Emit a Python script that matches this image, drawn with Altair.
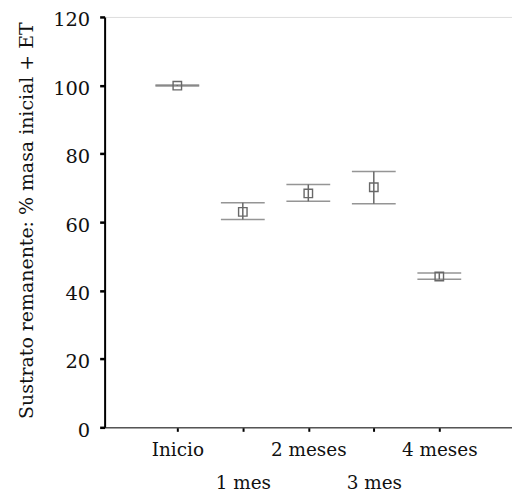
import altair as alt
import pandas as pd

categories = ["Inicio", "1 mes", "2 meses", "3 mes", "4 meses"]
means = [99.9, 63.0, 68.4, 70.2, 44.1]
upper = [100.1, 65.7, 71.0, 74.8, 45.1]
lower = [99.8, 60.8, 66.1, 65.4, 43.3]

df = pd.DataFrame({
    "idx": list(range(len(categories))),
    "cat": categories,
    "mean": means,
    "hi": upper,
    "lo": lower,
})

FONT = "DejaVu Serif"
GRAY = "#686868"

cat_array = "[" + ",".join("'" + c + "'" for c in categories) + "]"
label_expr = (
    "datum.value % 2 == 1 ? ['', " + cat_array + "[datum.value]] : "
    + cat_array + "[datum.value]"
)

xscale = alt.Scale(domain=[-1.11, 5.11], nice=False, zero=False)
yscale = alt.Scale(domain=[0, 120], nice=False)

x = alt.X(
    "idx:Q",
    scale=xscale,
    axis=alt.Axis(
        title=None,
        values=list(range(len(categories))),
        labelAngle=0,
        labelFont=FONT,
        labelFontSize=18.5,
        labelColor="#111",
        labelPadding=9,
        labelLineHeight=33,
        labelBaseline="top",
        labelOverlap=False,
        labelBound=False,
        labelExpr=label_expr,
        grid=False,
        domainColor="#555",
        domainWidth=1.5,
        tickColor="#000",
        tickWidth=2,
        tickSize=4,
    ),
)

y = alt.Y(
    "mean:Q",
    scale=yscale,
    axis=alt.Axis(
        title="Sustrato remanente: % masa inicial + ET",
        titleFont=FONT,
        titleFontSize=19,
        titleFontWeight="normal",
        titleColor="#111",
        titleX=-78,
        titleY=204,
        titleAngle=-90,
        titleAlign="center",
        titleBaseline="middle",
        values=[0, 20, 40, 60, 80, 100, 120],
        labelFont=FONT,
        labelFontSize=19.5,
        labelColor="#111",
        labelPadding=10,
        labelBaseline="alphabetic",
        labelOffset=9,
        grid=False,
        domainColor="#000",
        domainWidth=2,
        tickColor="#000",
        tickWidth=2.5,
        tickSize=5,
    ),
)

base = alt.Chart(df)

rules = base.mark_rule(color=GRAY, strokeWidth=1.5).encode(
    x=x, y=alt.Y("lo:Q", scale=yscale), y2="hi:Q"
)
caps_hi = base.mark_tick(color=GRAY, thickness=1.5, size=44, orient="horizontal").encode(
    x=x, y=alt.Y("hi:Q", scale=yscale)
)
caps_lo = base.mark_tick(color=GRAY, thickness=1.5, size=44, orient="horizontal").encode(
    x=x, y=alt.Y("lo:Q", scale=yscale)
)
pts = base.mark_point(shape="square", filled=False, size=72, color=GRAY, strokeWidth=1.4, opacity=1).encode(
    x=x, y=y
)

chart = (
    alt.layer(rules, caps_hi, caps_lo, pts)
    .properties(
        width=409,
        height=412,
        autosize=alt.AutoSizeParams(type="none"),
        padding={"left": 97, "top": 8, "right": 0, "bottom": 76},
    )
    .configure_view(stroke="#555", strokeWidth=1.5)
    .configure(background="white", font=FONT)
)

chart.save("out.html", embed_options={"renderer": "svg", "actions": False})
